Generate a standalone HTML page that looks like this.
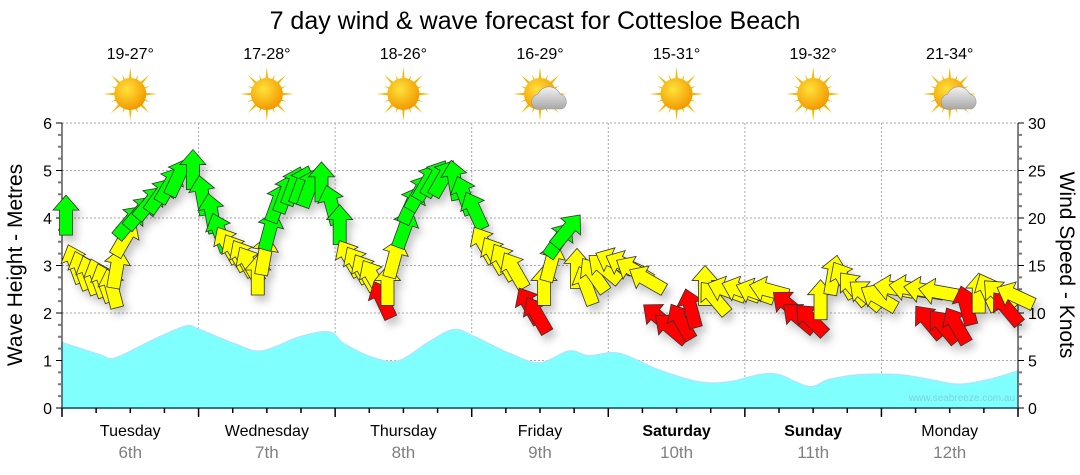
<!DOCTYPE html>
<html><head><meta charset="utf-8">
<style>
body{margin:0;background:#fff;width:1080px;height:475px;overflow:hidden;font-family:"Liberation Sans",sans-serif}
svg{display:block}
</style></head>
<body>
<svg id="chart" width="1080" height="475" xmlns="http://www.w3.org/2000/svg">
<defs>
<filter id="sh" x="-50%" y="-50%" width="200%" height="200%"><feDropShadow dx="4" dy="6" stdDeviation="4" flood-color="#000" flood-opacity="0.22"/></filter>
<radialGradient id="sun" cx="40%" cy="35%" r="65%"><stop offset="0" stop-color="#ffe23a"/><stop offset="1" stop-color="#f29a00"/></radialGradient>
<linearGradient id="cloud" x1="0" y1="0" x2="0" y2="1"><stop offset="0" stop-color="#f2f2f2"/><stop offset="1" stop-color="#a8a8a8"/></linearGradient>
</defs>
<text x="535" y="29" text-anchor="middle" font-size="25" fill="#000">7 day wind &amp; wave forecast for Cottesloe Beach</text>
<g id="topg"></g>
<g id="grid"></g>
<g id="wave"></g>
<g id="axes"></g>
<g id="arrows" filter="url(#sh)"></g>
<text x="1015" y="401" text-anchor="end" font-size="10" fill="#7fd0e0">www.seabreeze.com.au</text>
<text transform="translate(22,265) rotate(-90)" text-anchor="middle" font-size="21" fill="#000">Wave Height - Metres</text>
<text transform="translate(1060,265) rotate(90)" text-anchor="middle" font-size="21" fill="#000">Wind Speed - Knots</text>
</svg>
<script>
const days=["Tuesday","Wednesday","Thursday","Friday","Saturday","Sunday","Monday"];
const dates=["6th","7th","8th","9th","10th","11th","12th"];
const temps=["19-27°","17-28°","18-26°","16-29°","15-31°","19-32°","21-34°"];
const cloudy=[0,0,0,1,0,0,1];
const waveTicks=[0,1,2,3,4,5,6];
const windTicks=[0,5,10,15,20,25,30];
const waveHours=[0,6.7,9.3,15.4,21.6,24.2,30.4,35.1,41.8,47,49.6,54.9,59.3,64.6,68.9,72.5,78.6,83.9,89.1,92.6,97.9,104.9,111.9,117.2,122.5,126,131.3,134.8,140.1,147.1,152.4,157.6,162.9,168];
const waveM=[1.38,1.12,1.05,1.4,1.72,1.65,1.35,1.2,1.5,1.6,1.35,1.05,1.0,1.4,1.65,1.5,1.15,0.95,1.2,1.1,1.15,0.8,0.55,0.55,0.7,0.7,0.45,0.6,0.7,0.7,0.6,0.5,0.6,0.78];
const windHours=[0.7,2.3,3.5,4.9,6.3,7.5,8.8,9.6,11.1,11.9,13.7,15.4,17.2,18.9,20.4,23.0,24.7,26.3,27.7,29.1,30.5,31.9,33.0,34.4,35.6,36.5,37.9,39.3,40.7,42.1,43.5,45.6,47.4,48.8,50.5,51.9,53.3,54.7,56.3,57.2,58.4,60.2,61.4,62.8,64.2,65.6,67.0,69.0,70.7,72.5,74.2,76.0,77.7,79.5,82.1,83.5,84.7,86.0,87.4,88.8,90.5,92.1,93.5,95.3,97.0,98.8,100.5,102.8,104.9,107.0,108.8,110.5,113.0,114.6,116.8,119.3,121.8,124.2,127.7,129.5,131.6,133.3,135.6,137.4,139.1,141.2,143.5,146.1,148.8,151.4,154.0,152.3,154.9,157.2,158.9,161.1,162.8,164.6,166.0,167.5];
const windKts=[20.3,15.2,14.5,14.0,13.7,13.2,12.6,14.7,17.9,19.6,20.6,21.6,22.4,23.5,24.3,25.1,22.4,20.5,18.5,17.2,16.4,15.8,15.1,14.0,16.1,18.7,21.6,22.6,23.4,23.5,23.2,23.8,21.4,19.3,15.8,15.1,14.3,13.7,11.4,12.9,15.8,18.9,21.4,22.7,23.8,24.2,24.2,24.0,22.4,20.8,17.2,16.1,15.4,14.5,10.8,9.8,12.9,15.4,17.7,18.7,14.7,12.9,14.0,14.7,15.4,15.1,14.5,13.5,9.5,8.4,9.1,10.5,12.9,11.6,12.4,12.4,12.2,12.4,10.8,9.5,9.3,11.4,14.0,13.5,12.6,11.9,11.6,12.6,12.6,12.4,12.2,9.1,8.6,8.7,10.8,12.1,12.2,11.9,10.5,11.8];
const windDir=[0,-20,-20,-20,-20,-20,-15,10,30,40,40,40,35,30,25,0,-10,-10,-20,-30,-30,-30,-30,0,10,15,20,20,20,20,20,0,-15,0,-30,-30,-30,-30,-25,0,15,20,25,30,30,30,30,-10,-20,-25,-30,-30,-30,-30,-30,-30,0,15,35,40,0,-20,-35,-50,-65,-65,-60,-60,-50,-50,-30,-15,0,-40,-70,-70,-70,-75,-50,-50,-45,0,10,-30,-40,-50,-60,-80,-80,-80,-80,-40,-40,-30,-15,0,-25,-45,-40,-65];
const windCol="GYYYYYYYYGGGGGGGGGGYYYYYYGGGGGGGGGYYYYRYYGGGGGGGGGYYYYRRYYGGYYYYYYYYRRRRYYYYYYRRRYYYYYYYYYYRRRRYYYRY".split("");

const NS="http://www.w3.org/2000/svg";
const X0=62,X1=1018,Y0=408,Y1=123;
const xH=h=>X0+h*(X1-X0)/168;
const yM=m=>Y0-m*(Y0-Y1)/6;
const yK=k=>Y0-k*(Y0-Y1)/30;
const dayW=(X1-X0)/7;
function mk(tag,attrs,parent){const e=document.createElementNS(NS,tag);for(const k in attrs)e.setAttribute(k,attrs[k]);parent.appendChild(e);return e;}
const topG=document.getElementById('topg'),gridG=document.getElementById('grid'),waveG=document.getElementById('wave'),axesG=document.getElementById('axes'),arrowsG=document.getElementById('arrows');

temps.forEach((t,i)=>{
  const cx=X0+dayW*(i+0.5);
  const tx=mk('text',{x:cx,y:59,'text-anchor':'middle','font-size':16,fill:'#000'},topG);tx.textContent=t;
  
  
  const g=mk('g',{transform:`translate(${cx},94)`},topG);
  
  
  for(let r=0;r<16;r++){const a=r*22.5,L=(r%2?21:27);mk('polygon',{points:`-3,0 3,0 0,-${L}`,fill:'#f5b800',transform:`rotate(${a})`},g);}
  mk('circle',{r:16,fill:'url(#sun)'},g);
  if(cloudy[i]){mk('path',{d:'M-4,15 a8,8 0 0 1 2,-15 a12,12 0 0 1 22,0 a8,8 0 0 1 2,15 z',fill:'url(#cloud)',stroke:'#999','stroke-width':0.6},g);}
});

waveTicks.forEach(m=>{if(m>0){const l=mk('line',{x1:X0,x2:X1,y1:yM(m),y2:yM(m),stroke:'#aaa','stroke-dasharray':'2,2'},gridG);}});
for(let d=1;d<7;d++){const l=mk('line',{x1:X0+d*dayW,x2:X0+d*dayW,y1:Y1,y2:Y0,stroke:'#aaa','stroke-dasharray':'2,2'},gridG);}

const pts=waveHours.map((h,i)=>[xH(h),yM(waveM[i])]);
let p=`M${pts[0][0]},${Y0} L${pts[0][0]},${pts[0][1]}`;
for(let i=0;i<pts.length-1;i++){
  const p0=pts[Math.max(0,i-1)],p1=pts[i],p2=pts[i+1],p3=pts[Math.min(pts.length-1,i+2)];
  const c1=[p1[0]+(p2[0]-p0[0])/6,p1[1]+(p2[1]-p0[1])/6],c2=[p2[0]-(p3[0]-p1[0])/6,p2[1]-(p3[1]-p1[1])/6];
  p+=` C${c1[0]},${c1[1]} ${c2[0]},${c2[1]} ${p2[0]},${p2[1]}`;
}
p+=` L${pts[pts.length-1][0]},${Y0} Z`;
const wa=mk('path',{d:p,fill:'#80ffff',stroke:'#a8e8ff','stroke-width':1.5},waveG);



mk('line',{x1:X0,x2:X0,y1:Y1,y2:Y0,stroke:'#000'},axesG);
mk('line',{x1:X1,x2:X1,y1:Y1,y2:Y0,stroke:'#000'},axesG);
mk('line',{x1:X0,x2:X1,y1:Y0,y2:Y0,stroke:'#0a4a6a','stroke-width':1.5},axesG);
for(let m=0;m<=6.001;m+=0.25){const y=yM(m),maj=Math.abs(m-Math.round(m))<0.01;
  mk('line',{x1:X0-(maj?6:4),x2:X0,y1:y,y2:y,stroke:maj?'#000':'#777','stroke-width':maj?1:2},axesG);
  mk('line',{x1:X1,x2:X1+(maj?6:4),y1:y,y2:y,stroke:maj?'#000':'#777','stroke-width':maj?1:2},axesG);}
waveTicks.forEach(m=>{const t=mk('text',{x:X0-10,y:yM(m)+6,'text-anchor':'end','font-size':16,fill:'#000'},axesG);t.textContent=m;});
windTicks.forEach(k=>{const t=mk('text',{x:X1+10,y:yK(k)+6,'text-anchor':'start','font-size':16,fill:'#000'},axesG);t.textContent=k;});
for(let h=0;h<=168;h+=6){const maj=h%24==0;mk('line',{x1:xH(h),x2:xH(h),y1:Y0,y2:Y0+(maj?9:5),stroke:'#000','stroke-width':1.5},axesG);}
days.forEach((d,i)=>{const cx=X0+dayW*(i+0.5);const we=(i==4||i==5);
  const t=mk('text',{x:cx,y:436,'text-anchor':'middle','font-size':16,fill:'#000','font-weight':we?'bold':'normal'},axesG);t.textContent=d;
  
  const t2=mk('text',{x:cx,y:458,'text-anchor':'middle','font-size':17,fill:'#808080'},axesG);t2.textContent=dates[i];
  });

const cols={G:'#00ff00',Y:'#ffff00',R:'#ff0000'};
windHours.forEach((h,i)=>{
  const a=mk('polygon',{points:'-6.5,20 6.5,20 6.5,-5 13,-5 0,-20 -13,-5 -6.5,-5',fill:cols[windCol[i]]||'#ffff00',stroke:'#333','stroke-width':0.8,transform:`translate(${xH(h)},${yK(windKts[i])}) rotate(${windDir[i]})`},arrowsG);
  
  
});
</script>
</body></html>
